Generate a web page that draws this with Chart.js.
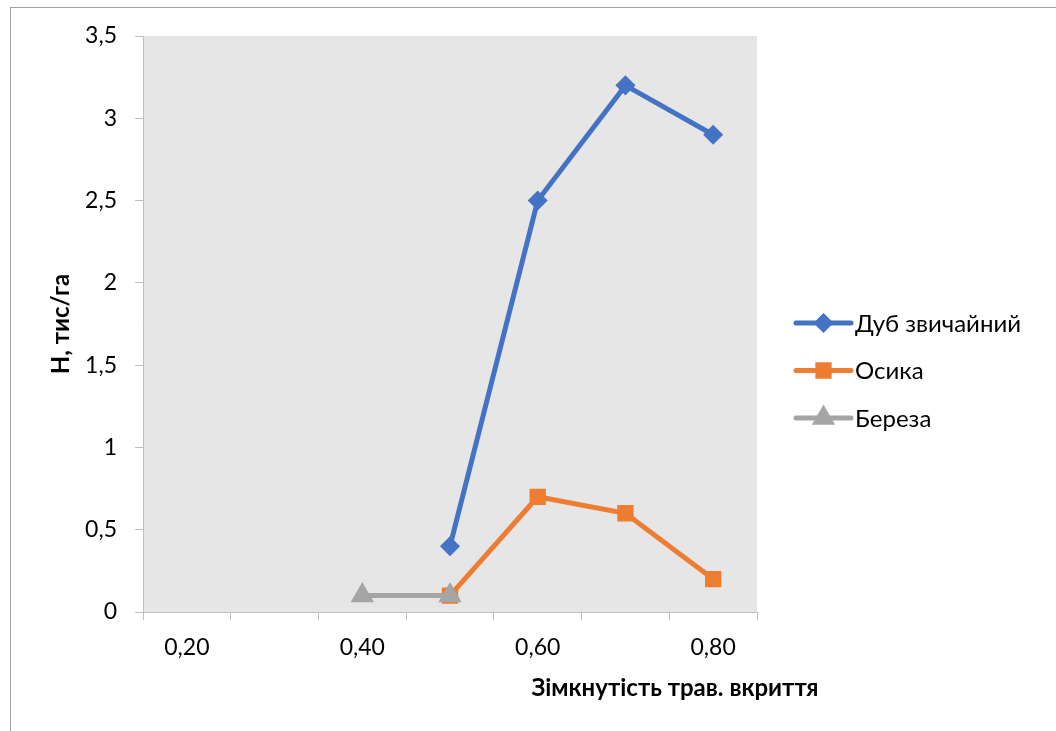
<!DOCTYPE html>
<html><head><meta charset="utf-8">
<script src="https://cdn.jsdelivr.net/npm/chart.js@4.4.0/dist/chart.umd.min.js"></script>
<style>
html,body{margin:0;padding:0;background:#fff;}
#wrap{position:relative;width:1056px;height:731px;overflow:hidden;}
#frame{position:absolute;left:10px;top:7px;width:1100px;height:800px;border-left:1px solid #a0a0a0;border-top:1px solid #a0a0a0;}
canvas{position:absolute;left:0;top:0;}
</style></head><body>
<div id="wrap"><div id="frame"></div><canvas id="c" width="1056" height="731"></canvas></div>
<script>
const categories = ['0,20','0,30','0,40','0,50','0,60','0,70','0,80'];
const dubValues = [null, null, null, 0.4, 2.5, 3.2, 2.9];
const osykaValues = [null, null, null, 0.1, 0.7, 0.6, 0.2];
const berezaValues = [null, null, 0.1, 0.1, null, null, null];
const seriesNames = ['Дуб звичайний', 'Осика', 'Береза'];
const yTitle = 'Н, тис/га';
const xTitle = 'Зімкнутість трав. вкриття';

const FONT = 'Lato';
const TXT = '#000000';
const AXIS = '#bfbfbf';

const bgPlugin = {
  id: 'plotBg',
  beforeDraw(chart) {
    const {ctx, chartArea: a} = chart;
    ctx.save();
    ctx.fillStyle = '#e7e6e6';
    ctx.fillRect(a.left, a.top, a.right - a.left, a.bottom - a.top);
    ctx.restore();
  }
};

const titlesLegendPlugin = {
  id: 'titlesLegend',
  afterDraw(chart) {
    const {ctx, chartArea: a} = chart;
    ctx.save();
    ctx.fillStyle = TXT;
    ctx.font = 'bold 24px ' + FONT;
    ctx.textAlign = 'center';
    ctx.textBaseline = 'middle';
    // y title
    ctx.save();
    ctx.translate(61, (a.top + a.bottom) / 2);
    ctx.rotate(-Math.PI / 2);
    ctx.fillText(yTitle, 0, 0);
    ctx.restore();
    // x title
    ctx.fillText(xTitle, 675, 688);
    // legend
    ctx.font = '24px ' + FONT;
    ctx.textAlign = 'left';
    const x0 = a.right + 39, x1 = a.right + 94;
    chart.data.datasets.forEach((ds, i) => {
      const y = 323 + i * 47.5;
      ctx.strokeStyle = ds.borderColor;
      ctx.lineWidth = ds.borderWidth;
      ctx.lineCap = 'round';
      ctx.beginPath();
      ctx.moveTo(x0, y);
      ctx.lineTo(x1, y);
      ctx.stroke();
      ctx.fillStyle = ds.pointBackgroundColor;
      ctx.strokeStyle = ds.pointBorderColor;
      Chart.helpers.drawPoint(ctx, {pointStyle: ds.pointStyle, radius: ds.pointRadius, rotation: 0, borderWidth: 1}, (x0 + x1) / 2, y);
      ctx.fillStyle = TXT;
      ctx.fillText(ds.label, x1 + 4, y + 1);
    });
    ctx.restore();
  }
};

new Chart(document.getElementById('c'), {
  type: 'line',
  data: {
    labels: categories,
    datasets: [
      {label: seriesNames[0], data: dubValues, borderColor: '#4472c4', backgroundColor: '#4472c4',
       pointBackgroundColor: '#4472c4', pointBorderColor: '#4472c4', pointStyle: 'rectRot', pointRadius: 6.5,
       borderWidth: 5, tension: 0, order: 1},
      {label: seriesNames[1], data: osykaValues, borderColor: '#ed7d31', backgroundColor: '#ed7d31',
       pointBackgroundColor: '#ed7d31', pointBorderColor: '#ed7d31', pointStyle: 'rect', pointRadius: 8,
       borderWidth: 5, tension: 0, order: 2},
      {label: seriesNames[2], data: berezaValues, borderColor: '#a5a5a5', backgroundColor: '#a5a5a5',
       pointBackgroundColor: '#a5a5a5', pointBorderColor: '#a5a5a5', pointStyle: 'triangle', pointRadius: 8.5,
       borderWidth: 5, tension: 0, order: 0}
    ]
  },
  options: {
    responsive: false,
    animation: false,
    spanGaps: false,
    layout: {padding: {top: 36, right: 299, bottom: 0, left: 0}},
    plugins: {legend: {display: false}, tooltip: {enabled: false}},
    scales: {
      x: {
        offset: true,
        grid: {offset: true, drawOnChartArea: false, drawTicks: true, tickLength: 8, color: AXIS},
        border: {display: true, color: AXIS, width: 1},
        ticks: {autoSkip: false, maxRotation: 0, padding: 14, color: TXT, font: {family: FONT, size: 23},
          callback: (v, i) => (i % 2 === 0 ? categories[i] : '')},
        afterFit: s => { s.height = 119; }
      },
      y: {
        min: 0, max: 3.5,
        grid: {drawOnChartArea: false, drawTicks: true, tickLength: 8, color: AXIS},
        border: {display: true, color: AXIS, width: 1},
        ticks: {stepSize: 0.5, padding: 18, color: TXT, font: {family: FONT, size: 23},
          callback: v => String(v).replace('.', ',')},
        afterFit: s => { s.width = 143; }
      }
    }
  },
  plugins: [bgPlugin, titlesLegendPlugin]
});
</script>
</body></html>
